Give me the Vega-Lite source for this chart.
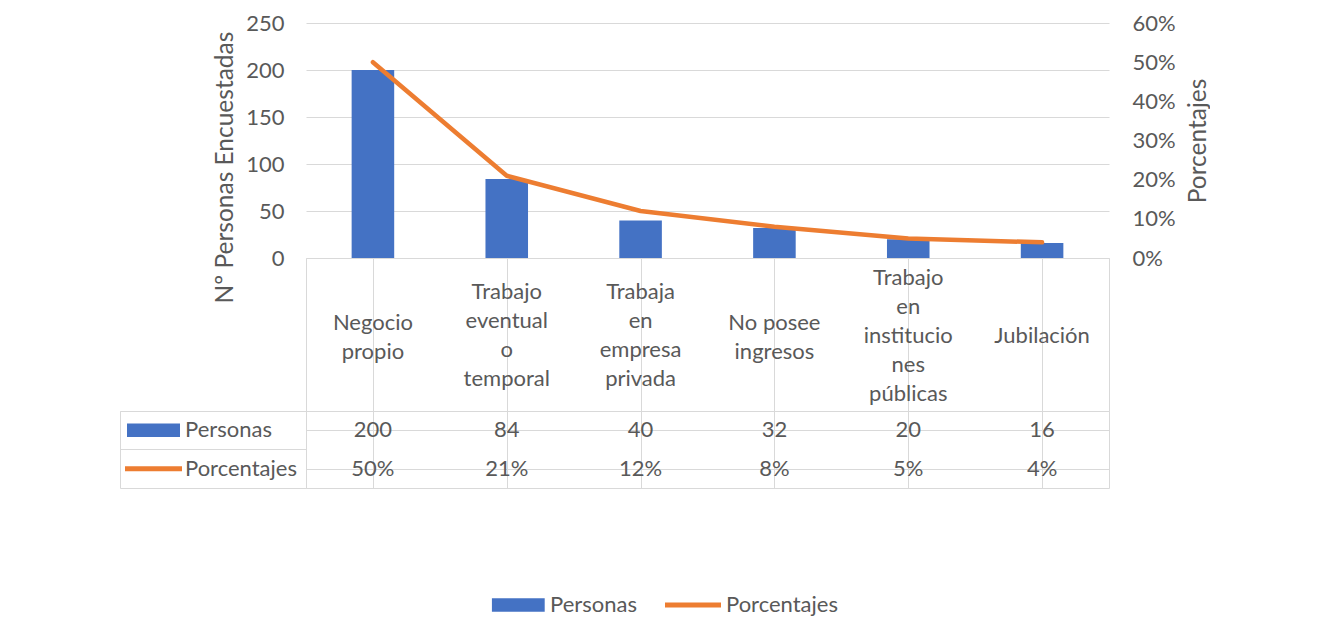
{
  "$schema": "https://vega.github.io/schema/vega-lite/v6.json",
  "background": "white",
  "padding": {"left": 119, "top": 12, "right": 0, "bottom": 0},
  "config": {
    "font": "Lato",
    "view": {"stroke": "#D9D9D9", "strokeWidth": 1},
    "axis": {"labelFont": "Lato", "titleFont": "Lato", "labelColor": "#595959", "titleColor": "#595959", "labelFontSize": 22, "titleFontSize": 24.5, "titleFontWeight": "normal", "gridColor": "#D9D9D9", "gridWidth": 1, "domain": false, "ticks": false, "tickSize": 0, "labelFlush": false, "labelOverlap": false},
    "legend": {"labelFont": "Lato", "labelFontSize": 22, "labelColor": "#595959", "padding": 0, "title": null, "orient": "none", "direction": "vertical", "symbolOpacity": 1},
    "text": {"font": "Lato", "fontSize": 22, "color": "#595959"}
  },
  "datasets": {
    "tabla": [
      {"cat": "Negocio propio", "label": "Negocio\npropio", "personas": 200, "pct": 0.50},
      {"cat": "Trabajo eventual o temporal", "label": "Trabajo\neventual\no\ntemporal", "personas": 84, "pct": 0.21},
      {"cat": "Trabaja en empresa privada", "label": "Trabaja\nen\nempresa\nprivada", "personas": 40, "pct": 0.12},
      {"cat": "No posee ingresos", "label": "No posee\ningresos", "personas": 32, "pct": 0.08},
      {"cat": "Trabajo en instituciones públicas", "label": "Trabajo\nen\ninstitucio\nnes\npúblicas", "personas": 20, "pct": 0.05},
      {"cat": "Jubilación", "label": "Jubilación", "personas": 16, "pct": 0.04}
    ],
    "series": [{"serie": "Personas"}, {"serie": "Porcentajes"}]
  },
  "data": {"name": "tabla"},
  "columns": 2,
  "spacing": 0,
  "bounds": "flush",
  "align": "each",
  "resolve": {"scale": {"x": "independent", "y": "independent", "color": "independent", "stroke": "independent"}, "legend": {"color": "independent", "stroke": "independent"}},
  "concat": [
    {"width": 186, "height": 235, "view": {"stroke": null}, "mark": {"type": "text", "text": ""}},
    {
      "width": 803, "height": 235, "view": {"stroke": null},
      "encoding": {"x": {"field": "cat", "type": "nominal", "sort": null, "scale": {"paddingInner": 0.682, "paddingOuter": 0.341}, "axis": null}},
      "layer": [
        {
          "mark": {"type": "bar"},
          "encoding": {
            "y": {"field": "personas", "type": "quantitative", "scale": {"domain": [0, 250]}, "axis": {"title": "Nº Personas Encuestadas", "values": [0, 50, 100, 150, 200, 250], "grid": true, "labelPadding": 22, "titlePadding": 8, "titleY": 144}},
            "color": {"datum": "Personas", "type": "nominal", "scale": {"domain": ["Personas"], "range": ["#4472C4"]},
              "legend": {"legendX": 185.7, "legendY": 570, "labelOffset": 5.3, "clipHeight": 24, "symbolType": "M-1,-0.255H1V0.255H-1Z", "symbolSize": 2809, "symbolStrokeWidth": 0}}
          }
        },
        {
          "mark": {"type": "line", "strokeWidth": 4.5, "strokeCap": "round", "strokeJoin": "round"},
          "encoding": {
            "y": {"field": "pct", "type": "quantitative", "scale": {"domain": [0, 0.6]}, "axis": {"orient": "right", "format": ".0%", "title": "Porcentajes", "titleAngle": -90, "titleBaseline": "top", "values": [0, 0.1, 0.2, 0.3, 0.4, 0.5, 0.6], "grid": false, "labelPadding": 23, "titlePadding": 11}},
            "stroke": {"datum": "Porcentajes", "type": "nominal", "scale": {"domain": ["Porcentajes"], "range": ["#ED7D31"]},
              "legend": {"legendX": 356.5, "legendY": 570, "labelOffset": 2.5, "clipHeight": 24, "symbolType": "stroke", "symbolSize": 3136, "symbolStrokeWidth": 5}}
          }
        }
      ],
      "resolve": {"scale": {"y": "independent"}}
    },
    {"width": 186, "height": 153, "view": {"stroke": null}, "mark": {"type": "text", "text": ""}},
    {
      "width": 803, "height": 153,
      "encoding": {
        "x": {"field": "cat", "type": "nominal", "sort": null, "scale": {"domain": ["Negocio propio", "Trabajo eventual o temporal", "Trabaja en empresa privada", "No posee ingresos", "Trabajo en instituciones públicas", "Jubilación"], "paddingInner": 0, "paddingOuter": 0}, "axis": {"orient": "top", "labels": false, "grid": true, "bandPosition": 0, "title": null}},
        "text": {"field": "label", "type": "nominal"}
      },
      "layer": [
        {"transform": [{"filter": "length(split(datum.label, '\\n')) == 1"}], "mark": {"type": "text", "lineBreak": "\n", "lineHeight": 29, "baseline": "middle", "align": "center", "dy": 1}},
        {"transform": [{"filter": "length(split(datum.label, '\\n')) == 2"}], "mark": {"type": "text", "lineBreak": "\n", "lineHeight": 29, "baseline": "middle", "align": "center", "dy": -12}},
        {"transform": [{"filter": "length(split(datum.label, '\\n')) == 4"}], "mark": {"type": "text", "lineBreak": "\n", "lineHeight": 29, "baseline": "middle", "align": "center", "dy": -43}},
        {"transform": [{"filter": "length(split(datum.label, '\\n')) == 5"}], "mark": {"type": "text", "lineBreak": "\n", "lineHeight": 29, "baseline": "middle", "align": "center", "dy": -57}}
      ]
    },
    {
      "width": 186, "height": 77,
      "data": {"name": "series"},
      "layer": [
        {
          "mark": {"type": "rect", "opacity": 0},
          "encoding": {
            "y": {"field": "serie", "type": "nominal", "scale": {"domain": ["Personas", "Porcentajes"], "paddingInner": 0, "paddingOuter": 0}, "axis": {"labels": false, "grid": true, "bandPosition": 0, "title": null}},
            "color": {"datum": "Personas", "type": "nominal", "scale": {"domain": ["Personas"], "range": ["#4472C4"]},
              "legend": {"legendX": 7, "legendY": 0, "labelOffset": 5, "clipHeight": 38.5, "symbolType": "M-1,-0.255H1V0.255H-1Z", "symbolSize": 2809, "symbolStrokeWidth": 0}}
          }
        },
        {
          "mark": {"type": "line", "opacity": 0},
          "encoding": {
            "y": {"field": "serie", "type": "nominal"},
            "stroke": {"datum": "Porcentajes", "type": "nominal", "scale": {"domain": ["Porcentajes"], "range": ["#ED7D31"]},
              "legend": {"legendX": 2.5, "legendY": 38.5, "labelOffset": 0.5, "clipHeight": 38.5, "symbolType": "stroke", "symbolSize": 3249, "symbolStrokeWidth": 5}}
          }
        }
      ]
    },
    {
      "width": 803, "height": 77,
      "encoding": {"x": {"field": "cat", "type": "nominal", "sort": null, "scale": {"domain": ["Negocio propio", "Trabajo eventual o temporal", "Trabaja en empresa privada", "No posee ingresos", "Trabajo en instituciones públicas", "Jubilación"], "paddingInner": 0, "paddingOuter": 0}, "axis": {"orient": "top", "labels": false, "grid": true, "bandPosition": 0, "title": null}}},
      "layer": [
        {
          "mark": {"type": "text", "baseline": "middle"},
          "encoding": {
            "y": {"datum": "Personas", "type": "nominal", "scale": {"domain": ["Personas", "Porcentajes"], "paddingInner": 0, "paddingOuter": 0}, "axis": {"labels": false, "grid": true, "bandPosition": 0, "title": null}},
            "text": {"field": "personas", "type": "quantitative", "format": "d"}
          }
        },
        {
          "mark": {"type": "text", "baseline": "middle"},
          "encoding": {
            "y": {"datum": "Porcentajes", "type": "nominal"},
            "text": {"field": "pct", "type": "quantitative", "format": ".0%"}
          }
        }
      ]
    }
  ]
}
